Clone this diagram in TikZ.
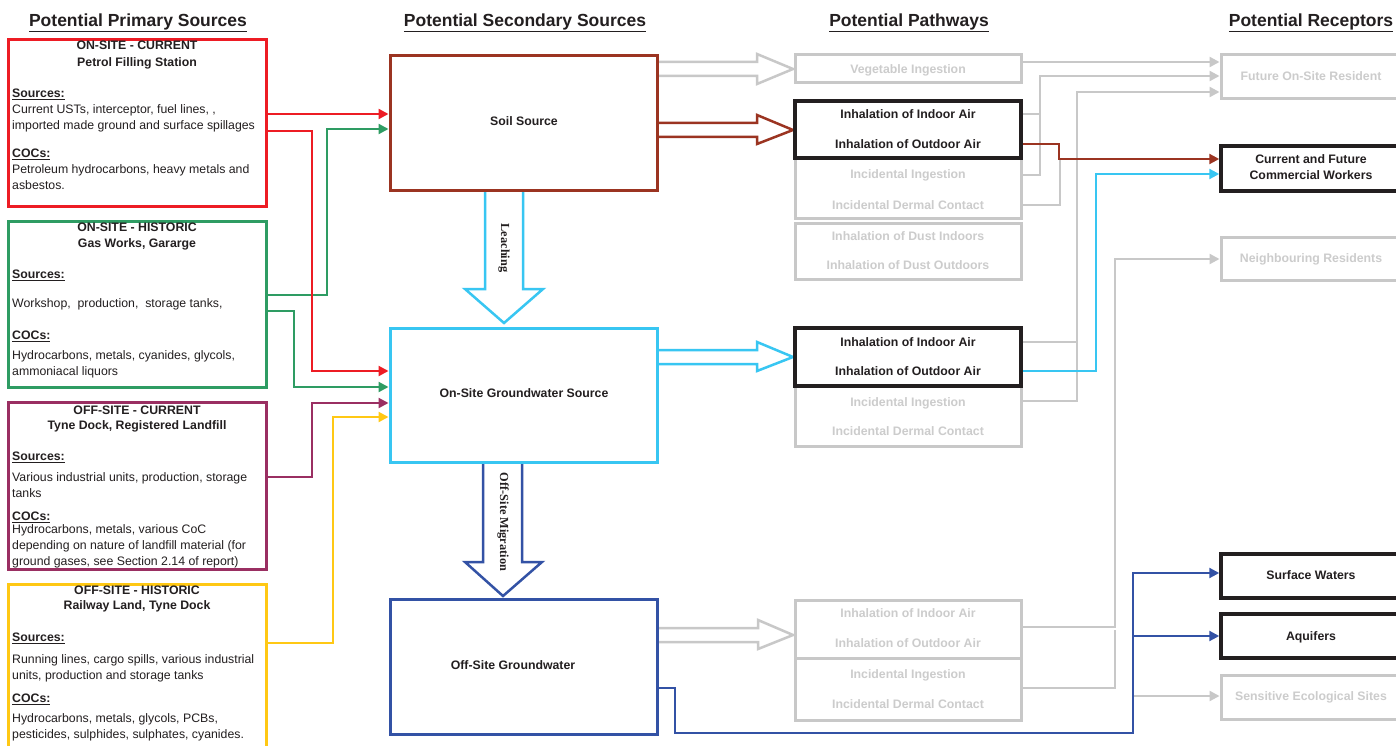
\documentclass[tikz,border=0pt]{standalone}
\usepackage{fontspec}
\setmainfont{Liberation Sans}
\newfontfamily\timesf{Liberation Serif}
\usetikzlibrary{arrows.meta,fit,calc}
\definecolor{cRed}{HTML}{ED1C24}
\definecolor{cGreen}{HTML}{2E9C63}
\definecolor{cPurple}{HTML}{9A2F62}
\definecolor{cYellow}{HTML}{FFC814}
\definecolor{cBrown}{HTML}{9B3421}
\definecolor{cCyan}{HTML}{38C6F2}
\definecolor{cBlue}{HTML}{3352A5}
\definecolor{cGray}{HTML}{C8C8C8}
\definecolor{cText}{HTML}{231F20}
\definecolor{cGrayT}{HTML}{CCCCCC}
\newcommand{\hd}[1]{\textbf{\underline{#1}}}
\begin{document}
\begin{tikzpicture}[x=1pt,y=-1pt,
  every node/.style={text=cText, inner sep=0pt},
  box/.style={draw, line width=3pt, fill=white, inner sep=0pt},
  gbox/.style={box, draw=cGray},
  kbox/.style={box, draw=cText, line width=3.5pt},
  hdr/.style={font=\bfseries\fontsize{17.5}{20}\selectfont, anchor=base},
  ttl/.style={font=\bfseries\fontsize{12.3}{16}\selectfont, align=center, anchor=base},
  txt/.style={font=\fontsize{12.3}{16}\selectfont, align=left, anchor=base west},
  lbl/.style={font=\bfseries\fontsize{12.3}{16}\selectfont, anchor=base},
  lblg/.style={lbl, text=cGrayT},
  rot/.style={font=\timesf\bfseries\fontsize{12.3}{14}\selectfont, rotate=-90},
  bar/.style={line width=2.5pt, fill=white, line join=miter},
  arr/.style={-{Triangle[length=10pt,width=10pt]}},
  con/.style={line width=2.2pt},
  gcon/.style={con, draw=cGray}
]
\useasboundingbox (0,0) rectangle (1396,746);
\clip (0,0) rectangle (1396,746);
\fill[white] (0,0) rectangle (1396,746);

% headers
\node[hdr] (h1) at (138,26.3) {\underline{Potential Primary Sources}};
\node[hdr] (h2) at (525,26.3) {\underline{Potential Secondary Sources}};
\node[hdr] (h3) at (909,26.3) {\underline{Potential Pathways}};
\node[hdr] (h4) at (1311,26.3) {\underline{Potential Receptors}};

% block arrows
\draw[bar, draw=cGray] (650,62) -- (757,62) -- (757,54) -- (793,69) -- (757,84) -- (757,76) -- (650,76);
\draw[bar, draw=cBrown] (650,123) -- (757,123) -- (757,115) -- (793,130) -- (757,144) -- (757,137) -- (650,137);
\draw[bar, draw=cCyan] (650,350) -- (757,350) -- (757,342) -- (793,357) -- (757,371) -- (757,364) -- (650,364);
\draw[bar, draw=cGray] (650,628) -- (758,628) -- (758,620) -- (793,635) -- (758,649) -- (758,642) -- (650,642);
\draw[bar, draw=cCyan] (485,185) -- (485,289) -- (465,289) -- (504,323) -- (543,289) -- (523,289) -- (523,185);
\draw[bar, draw=cBlue] (483,456) -- (483,562) -- (465,562) -- (503,596) -- (542,562) -- (522,562) -- (522,456);

% primary source boxes
\node[box, draw=cRed, fit={(8,40) (266,206)}] (red) {};
\node[box, draw=cGreen, fit={(8,221) (266,387)}] (green) {};
\node[box, draw=cPurple, fit={(8,402) (266,569)}] (purple) {};
\node[box, draw=cYellow, fit={(8,584) (266,760)}] (yellow) {};

% secondary source boxes
\node[box, draw=cBrown, fit={(390,56) (657,190)}] (soil) {};
\node[box, draw=cCyan, fit={(390,328) (657,462)}] (gw) {};
\node[box, draw=cBlue, fit={(390,599) (657,734)}] (offgw) {};

% pathway boxes
\node[gbox, fit={(795,55) (1021,83)}] (veg) {};
\node[gbox, fit={(795,101) (1021,218)}] (pw1) {};
\node[kbox, fit={(795,101) (1021,158)}] (pw1k) {};
\node[gbox, fit={(795,223) (1021,279)}] (dust) {};
\node[gbox, fit={(795,328) (1021,446)}] (pw2) {};
\node[kbox, fit={(795,328) (1021,386)}] (pw2k) {};
\node[gbox, fit={(795,600) (1021,658)}] (pw3a) {};
\node[gbox, fit={(795,658) (1021,720)}] (pw3b) {};

% receptor boxes
\node[gbox, fit={(1221,55) (1400,99)}] (fut) {};
\node[kbox, fit={(1221,146) (1400,191)}] (comm) {};
\node[gbox, fit={(1221,237) (1400,280)}] (neigh) {};
\node[kbox, fit={(1221,554) (1400,598)}] (surf) {};
\node[kbox, fit={(1221,614) (1400,658)}] (aqu) {};
\node[gbox, fit={(1221,675) (1400,719)}] (sens) {};

% connectors primary -> secondary
\draw[con, cGreen, arr] (green.east |- 0,295) -| (327,129) -- (soil.west |- 0,129);
\draw[con, cGreen, arr] (green.east |- 0,311) -| (294,387) -- (gw.west |- 0,387);
\draw[con, cRed, arr] (red.east |- 0,114) -- (soil.west |- 0,114);
\draw[con, cRed, arr] (red.east |- 0,131) -| (312,371) -- (gw.west |- 0,371);
\draw[con, cPurple, arr] (purple.east |- 0,477) -| (312,403) -- (gw.west |- 0,403);
\draw[con, cYellow, arr] (yellow.east |- 0,643) -| (333,417) -- (gw.west |- 0,417);

% connectors pathways -> receptors
\draw[gcon, arr] (veg.east |- 0,62) -- (fut.west |- 0,62);
\draw[gcon] (pw1k.east |- 0,114) -- (1040,114);
\draw[gcon, arr] (pw1.east |- 0,175) -| (1040,76) -- (fut.west |- 0,76);
\draw[gcon] (pw1.east |- 0,205) -| (1060,159);
\draw[gcon] (pw2k.east |- 0,342) -- (1077,342);
\draw[gcon, arr] (pw2.east |- 0,401) -| (1077,92) -- (fut.west |- 0,92);
\draw[gcon, arr] (pw3a.east |- 0,627) -| (1115,259) -- (neigh.west |- 0,259);
\draw[gcon] (pw3b.east |- 0,688) -| (1115,630);
\draw[con, cBrown, arr] (pw1k.east |- 0,144) -| (1059,159) -- (comm.west |- 0,159);
\draw[con, cCyan, arr] (pw2k.east |- 0,371) -| (1096,174) -- (comm.west |- 0,174);
\coordinate (bj1) at (1133,636);
\coordinate (bj2) at (1133,696);
\draw[gcon, arr] (bj2) -- (sens.west |- bj2);
\draw[con, cBlue, arr] (offgw.east |- 0,688) -| (675,733) -| (1133,573) -- (surf.west |- 0,573);
\draw[con, cBlue, arr] (bj1) -- (aqu.west |- bj1);

% primary source texts (anchor = baseline of last line)
\node[ttl] (redT) at (137,66.5) {ON-SITE - CURRENT\\[1pt]Petrol Filling Station};
\node[txt] (redB) at (12,189.5) {\hd{Sources:}\\Current USTs, interceptor, fuel lines, ,\\imported made ground and surface spillages\\[12pt]\hd{COCs:}\\Petroleum hydrocarbons, heavy metals and\\asbestos.};
\node[ttl] (greenT) at (137,247.5) {ON-SITE - HISTORIC\\Gas Works, Gararge};
\node[txt] (greenB) at (12,375.5) {\hd{Sources:}\\[13pt]Workshop,\ \ production,\ \ storage tanks,\\[16pt]\hd{COCs:}\\[4pt]Hydrocarbons, metals, cyanides, glycols,\\ammoniacal liquors};
\node[ttl] (purpleT) at (137,429.5) {OFF-SITE - CURRENT\\[-1pt]Tyne Dock, Registered Landfill};
\node[txt] (purpleB) at (12,565.5) {\hd{Sources:}\\[5pt]Various industrial units, production, storage\\tanks\\[7pt]\hd{COCs:}\\[-3pt]Hydrocarbons, metals, various CoC\\depending on nature of landfill material (for\\ground gases, see Section 2.14 of report)};
\node[ttl] (yellowT) at (137,609.5) {OFF-SITE - HISTORIC\\[-1pt]Railway Land, Tyne Dock};
\node[txt] (yellowB) at (12,738.5) {\hd{Sources:}\\[6pt]Running lines, cargo spills, various industrial\\units, production and storage tanks\\[7pt]\hd{COCs:}\\[4pt]Hydrocarbons, metals, glycols, PCBs,\\pesticides, sulphides, sulphates, cyanides.};

% secondary labels
\node[lbl] (soilL) at (524,125.4) {Soil Source};
\node[lbl] (gwL) at (524,397.4) {On-Site Groundwater Source};
\node[lbl] (offL) at (513,669.4) {Off-Site Groundwater};
\node[rot] (leach) at (504,248) {Leaching};
\node[rot] (mig) at (503,522) {Off-Site Migration};

% pathway labels
\node[lblg] (t1) at (908,73.4) {Vegetable Ingestion};
\node[lbl] (t2) at (908,118.4) {Inhalation of Indoor Air};
\node[lbl] (t3) at (908,148.4) {Inhalation of Outdoor Air};
\node[lblg] (t4) at (908,178.4) {Incidental Ingestion};
\node[lblg] (t5) at (908,209.4) {Incidental Dermal Contact};
\node[lblg] (t6) at (908,240.4) {Inhalation of Dust Indoors};
\node[lblg] (t7) at (908,269.4) {Inhalation of Dust Outdoors};
\node[lbl] (t8) at (908,346.4) {Inhalation of Indoor Air};
\node[lbl] (t9) at (908,375.4) {Inhalation of Outdoor Air};
\node[lblg] (t10) at (908,406.4) {Incidental Ingestion};
\node[lblg] (t11) at (908,435.4) {Incidental Dermal Contact};
\node[lblg] (t12) at (908,617.4) {Inhalation of Indoor Air};
\node[lblg] (t13) at (908,647.4) {Inhalation of Outdoor Air};
\node[lblg] (t14) at (908,678.4) {Incidental Ingestion};
\node[lblg] (t15) at (908,708.4) {Incidental Dermal Contact};

% receptor labels
\node[lblg] (r1) at (1311,80.4) {Future On-Site Resident};
\node[ttl] (r2) at (1311,179.4) {Current and Future\\Commercial Workers};
\node[lblg] (r3) at (1311,262.4) {Neighbouring Residents};
\node[lbl] (r4) at (1311,579.4) {Surface Waters};
\node[lbl] (r5) at (1311,640.4) {Aquifers};
\node[lblg] (r6) at (1311,700.4) {Sensitive Ecological Sites};
\end{tikzpicture}
\end{document}
